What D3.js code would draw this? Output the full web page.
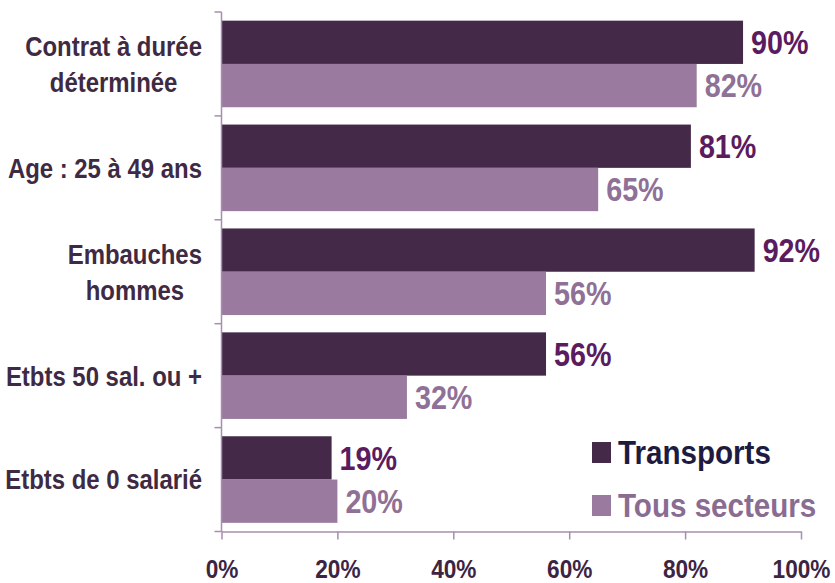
<!DOCTYPE html>
<html>
<head>
<meta charset="utf-8">
<script src="https://cdn.jsdelivr.net/npm/d3@7"></script>
<style>
  body { margin: 0; background: #fff; }
  svg text { font-family: "Liberation Sans", Arial, sans-serif; font-weight: bold; }
</style>
</head>
<body>
<div class="chart"></div>
<script>
// data
var categories = [
  ["Contrat à durée", "déterminée"],
  ["Age : 25 à 49 ans"],
  ["Embauches", "hommes"],
  ["Etbts 50 sal. ou +"],
  ["Etbts de 0 salarié"]
];
var seriesNames = ["Transports", "Tous secteurs"];
var transports = [90, 81, 92, 56, 19];
var tousSecteurs = [82, 65, 56, 32, 20];
var xTicks = [0, 20, 40, 60, 80, 100];

var barColors = ["#442a48", "#9a7b9f"];
var valueColors = ["#5b1b5f", "#8f7096"];
var legendColors = ["#1d1b3f", "#8a6c92"];

var svgWidth = 835;
var svgHeight = 583;
// narrow look: squeeze the bold sans horizontally
var squeeze = 0.87;

var svg = d3.select(".chart")
  .append("svg")
  .attr("width", svgWidth)
  .attr("height", svgHeight);

function place(px, py) {
  return "translate(" + px + "," + py + ") scale(" + squeeze + ",1)";
}

var keys = categories.map(function(c, i) { return "c" + i; });

var x = d3.scaleLinear().domain([0, 100]).range([221.5, 801]);
var y = d3.scaleBand().domain(keys).range([12, 531.5]);
var ySub = d3.scaleBand().domain(seriesNames).range([0, y.bandwidth()])
  .paddingInner(0).paddingOuter(0.2);

var rows = [];
keys.forEach(function(k, i) {
  rows.push({ key: k, series: 0, value: transports[i] });
  rows.push({ key: k, series: 1, value: tousSecteurs[i] });
});

// bars
svg.append("g").selectAll("rect")
  .data(rows)
  .enter()
  .append("rect")
  .attr("x", x(0))
  .attr("y", function(d) { return y(d.key) + ySub(seriesNames[d.series]); })
  .attr("width", function(d) { return x(d.value) - x(0); })
  .attr("height", ySub.bandwidth())
  .attr("fill", function(d) { return barColors[d.series]; });

// value labels
svg.append("g").selectAll("text")
  .data(rows)
  .enter()
  .append("text")
  .attr("transform", function(d) {
    return place(x(d.value) + 8, y(d.key) + ySub(seriesNames[d.series]) + ySub.bandwidth() / 2);
  })
  .attr("dy", "0.36em")
  .attr("font-size", 33)
  .attr("fill", function(d) { return valueColors[d.series]; })
  .text(function(d) { return d.value + "%"; });

// y axis: line + boundary ticks
var axisColor = "#a68eae";
var yAxis = svg.append("g");
yAxis.append("line")
  .attr("x1", x(0)).attr("x2", x(0))
  .attr("y1", y.range()[0]).attr("y2", y.range()[1])
  .attr("stroke", axisColor).attr("stroke-width", 1.5);
yAxis.selectAll(".ytick")
  .data(keys.map(function(k) { return y(k); }).concat([y.range()[1]]))
  .enter()
  .append("line")
  .attr("x1", x(0) - 7).attr("x2", x(0))
  .attr("y1", function(d) { return d; }).attr("y2", function(d) { return d; })
  .attr("stroke", axisColor).attr("stroke-width", 1.5);

// category labels: lines centred, block right-aligned
var labelRight = 202;
var lineGap = 36;
svg.append("g").selectAll("g")
  .data(categories)
  .enter()
  .append("g")
  .each(function(lines, i) {
    var g = d3.select(this);
    var cy = y(keys[i]) + y.bandwidth() / 2;
    var texts = lines.map(function(line) {
      return g.append("text")
        .attr("dy", "0.36em")
        .attr("font-size", 27.5)
        .attr("fill", "#3f2a43")
        .attr("text-anchor", "middle")
        .text(line);
    });
    var maxW = d3.max(texts, function(t) { return t.node().getComputedTextLength(); }) * squeeze;
    texts.forEach(function(t, j) {
      t.attr("transform", place(labelRight - maxW / 2, cy + (j - (lines.length - 1) / 2) * lineGap));
    });
  });

// x axis
var bottomAxis = d3.axisBottom(x)
  .tickValues(xTicks)
  .tickSize(8)
  .tickSizeOuter(0)
  .tickPadding(20)
  .tickFormat(function(d) { return d + "%"; });

var xAxisG = svg.append("g")
  .attr("transform", "translate(0," + y.range()[1] + ")")
  .call(bottomAxis);
xAxisG.select(".domain").attr("stroke", axisColor).attr("stroke-width", 1.5);
xAxisG.selectAll(".tick line").attr("stroke", axisColor).attr("stroke-width", 1.5);
xAxisG.selectAll(".tick text")
  .attr("transform", "scale(" + squeeze + ",1)")
  .attr("font-size", 26)
  .attr("fill", "#3e2442");
xAxisG.attr("font-family", null);

// legend
var legend = svg.append("g").selectAll("g")
  .data(seriesNames)
  .enter()
  .append("g")
  .attr("transform", function(d, i) { return "translate(592," + (452 + i * 53) + ")"; });
legend.append("rect")
  .attr("x", 0).attr("y", -10)
  .attr("width", 19).attr("height", 21)
  .attr("fill", function(d, i) { return barColors[i]; });
legend.append("text")
  .attr("transform", place(26, 0))
  .attr("dy", "0.36em")
  .attr("font-size", 34)
  .attr("fill", function(d, i) { return legendColors[i]; })
  .text(function(d) { return d; });
</script>
</body>
</html>
